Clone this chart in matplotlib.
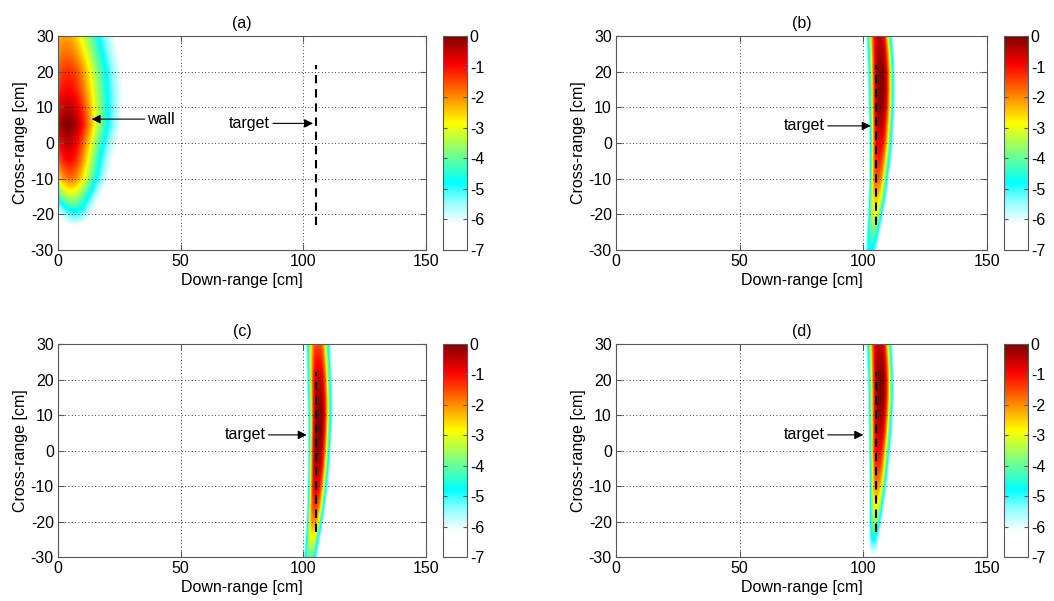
import numpy as np
import matplotlib.pyplot as plt
from matplotlib.colors import LinearSegmentedColormap

plt.rcParams['font.family'] = ['Liberation Sans', 'DejaVu Sans']
plt.rcParams['font.size'] = 11.5
plt.rcParams['axes.unicode_minus'] = False

# cross-range rows (cm) at which the images were read
rows_y = [30, 25, 20, 15, 10, 5, 0, -5, -10, -15, -20, -25, -30]

# per row: peak position (cm), peak level, left / right edge of the visible blob (cm)
# (a) wall
a_center = [3.0, 3.5, 4.0, 4.0, 4.0, 4.0, 4.0, 4.5, 5.0, 5.5, 7.0, 6.0, 6.0]
a_peak = [-2.2, -1.8, -1.3, -1.0, -0.5, 0.0, -0.5, -1.0, -1.8, -3.3, -5.0, -6.8, -7.0]
a_left = [-17.0, -17.5, -18.0, -18.5, -18.5, -18.0, -16.0, -13.0, -10.5, -6.0, 0.3, 4.0, 5.5]
a_right = [23.5, 25.0, 26.5, 27.0, 27.0, 26.5, 24.5, 22.5, 21.0, 17.5, 14.0, 8.0, 6.5]

# (b)
b_center = [106.2, 106.5, 106.7, 106.7, 106.5, 106.2, 105.9, 105.5, 105.1, 104.85, 104.3, 103.5, 102.4]
b_peak = [-0.5, -0.3, 0.0, 0.0, -0.1, -0.4, -0.8, -1.2, -1.6, -2.4, -3.0, -4.0, -4.8]
b_left = [100.4, 100.7, 100.95, 101.2, 101.35, 101.6, 101.8, 101.8, 101.8, 101.5, 101.2, 100.7, 100.1]
b_right = [111.8, 112.5, 112.9, 113.0, 112.9, 112.5, 112.2, 111.4, 110.4, 109.5, 108.1, 106.8, 105.45]

# (c)
c_center = [105.9, 106.0, 106.2, 106.3, 106.3, 106.1, 105.8, 105.5, 105.1, 104.7, 104.2, 103.4, 102.5]
c_peak = [-1.5, -1.0, -0.5, -0.2, 0.0, 0.0, -0.1, -0.4, -0.8, -1.3, -2.0, -3.0, -4.0]
c_left = [100.6, 100.8, 101.0, 101.2, 101.4, 101.5, 101.5, 101.5, 101.4, 101.2, 100.9, 100.4, 99.8]
c_right = [111.5, 111.8, 112.1, 112.3, 112.3, 112.0, 111.6, 111.1, 110.4, 109.5, 108.4, 107.1, 105.9]

# (d)
d_center = [106.2, 106.5, 106.6, 106.5, 106.2, 105.9, 105.5, 105.3, 105.0, 104.7, 104.3, 103.8, 103.2]
d_peak = [-0.5, -0.2, 0.0, 0.0, -0.2, -0.5, -0.9, -1.4, -2.0, -2.8, -3.6, -4.8, -6.3]
d_left = [100.4, 100.7, 100.95, 101.2, 101.35, 101.5, 101.6, 101.8, 101.8, 101.8, 101.8, 101.8, 102.1]
d_right = [111.8, 112.2, 112.5, 112.5, 112.2, 111.8, 111.1, 110.4, 109.5, 108.4, 107.3, 106.0, 104.6]

# annotations: (text, text x, text y, arrow tip x, arrow tip y, text alignment)
a_notes = [('wall', 36.5, 6.7, 13.7, 6.7, 'left'), ('target', 86.5, 5.5, 104.0, 5.5, 'right')]
b_notes = [('target', 84.5, 4.8, 103.0, 4.8, 'right')]
c_notes = [('target', 84.7, 4.4, 101.4, 4.4, 'right')]
d_notes = [('target', 84.5, 4.4, 100.0, 4.4, 'right')]

target_x = 105
target_y = [-23, 22]

FLOOR, EDGE = -7.0, -6.2

cmap = LinearSegmentedColormap.from_list('jetwhite', [
    (0.0, (1, 1, 1)),
    ((-6.15 + 7) / 7, (1, 1, 1)),
    ((-5.9 + 7) / 7, (0.85, 1, 1)),
    ((-5.4 + 7) / 7, (0.55, 1, 1)),
    ((-4.8 + 7) / 7, (0, 1, 1)),
    ((-3.8 + 7) / 7, (0.5, 1, 0.5)),
    ((-2.85 + 7) / 7, (1, 1, 0)),
    ((-1.9 + 7) / 7, (1, 0.5, 0)),
    ((-0.95 + 7) / 7, (1, 0, 0)),
    (1.0, (0.5, 0, 0)),
])


def field(center, peak, left, right, shape, xs):
    img = []
    for c, pk, xl, xr in zip(center, peak, left, right):
        k = np.log(max((pk - FLOOR) / (EDGE - FLOOR), 1.05)) ** (1 / shape)
        s = np.where(xs < c, (c - xl) / k, (xr - c) / k)
        img.append(FLOOR + (pk - FLOOR) * np.exp(-np.abs((xs - c) / s) ** shape))
    return np.array(img)


xs = np.linspace(0, 150, 1501)
panels = [
    ('(a)', [0.0550, 0.5840, 0.3491, 0.3561], 0.4203, (a_center, a_peak, a_left, a_right, 2.0), a_notes),
    ('(b)', [0.5844, 0.5840, 0.3520, 0.3561], 0.9526, (b_center, b_peak, b_left, b_right, 3.0), b_notes),
    ('(c)', [0.0550, 0.0732, 0.3491, 0.3544], 0.4203, (c_center, c_peak, c_left, c_right, 3.0), c_notes),
    ('(d)', [0.5844, 0.0732, 0.3520, 0.3544], 0.9526, (d_center, d_peak, d_left, d_right, 3.0), d_notes),
]

fig = plt.figure(figsize=(10.54, 6.01), dpi=100)
edge_col = '0.35'

for title, rect, cb_left, params, notes in panels:
    ax = fig.add_axes(rect)
    img = field(*params, xs)
    dx = xs[1] - xs[0]
    im = ax.imshow(img, cmap=cmap, vmin=-7, vmax=0, aspect='auto',
                   extent=[xs[0] - dx / 2, xs[-1] + dx / 2, -32.5, 32.5],
                   interpolation='bilinear', interpolation_stage='data', origin='upper')
    ax.plot([target_x, target_x], target_y, color='k', lw=1.5, dashes=(4, 2.8))
    for txt, tx, ty, px, py, ha in notes:
        ax.annotate(txt, xy=(px, py), xytext=(tx, ty), ha=ha, va='center',
                    arrowprops=dict(arrowstyle='-|>', color='k', lw=0.8,
                                    shrinkA=0, shrinkB=0, mutation_scale=13))
    ax.set_xlim(0, 150)
    ax.set_ylim(-30, 30)
    ax.set_xticks([0, 50, 100, 150])
    ax.set_yticks([-30, -20, -10, 0, 10, 20, 30])
    ax.grid(True, color='k', lw=0.6, dashes=(1, 3))
    ax.tick_params(direction='in', length=4, top=True, right=True, color=edge_col, pad=3)
    for sp in ax.spines.values():
        sp.set_color(edge_col)
    ax.set_xlabel('Down-range [cm]', labelpad=2.5)
    ax.set_ylabel('Cross-range [cm]', labelpad=2)
    ax.set_title(title, fontsize=11.5, pad=6)

    cax = fig.add_axes([cb_left, rect[1], 0.0228, rect[3]])
    cb = fig.colorbar(im, cax=cax, ticks=[-7, -6, -5, -4, -3, -2, -1, 0])
    cb.ax.set_yticklabels(['-7', '-6', '-5', '-4', '-3', '-2', '-1', '0'])
    cb.ax.tick_params(direction='in', length=3, left=True, right=True, color=edge_col, pad=2)
    cb.outline.set_edgecolor(edge_col)

fig.savefig('out.png', dpi=100)
